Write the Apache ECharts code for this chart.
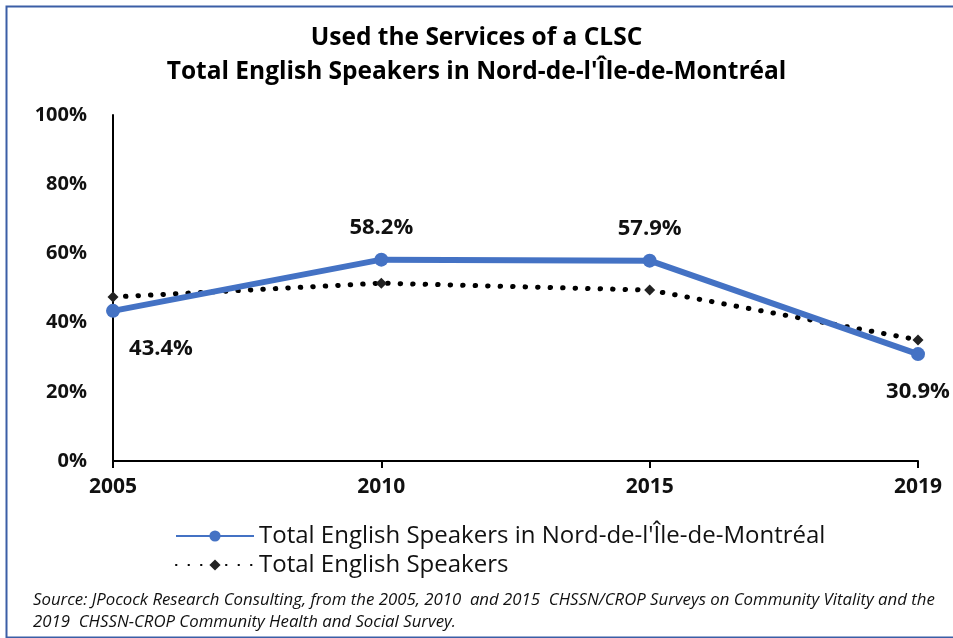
<!DOCTYPE html>
<html>
<head>
<meta charset="utf-8">
<script src="https://cdn.jsdelivr.net/npm/echarts@6/dist/echarts.min.js"></script>
<style>html,body{margin:0;padding:0;background:#fff}#c{width:953px;height:638px}</style>
</head>
<body>
<div id="c"></div>
<script>
const categories = ['2005', '2010', '2015', '2019'];
const nordValues = [43.4, 58.2, 57.9, 30.9];
const totalValues = [47.4, 51.4, 49.4, 35.0];
const nordName = "Total English Speakers in Nord-de-l'Île-de-Montréal";
const totalName = 'Total English Speakers';
const labelPositions = ['bottom', 'top', 'top', 'bottom'];
const labelOffsets = [[48, 8], [0, -2], [0, -2], [0, 8]];

const FONT = '"Open Sans", Lato, sans-serif';
const chart = echarts.init(document.getElementById('c'), null, {renderer: 'canvas'});
chart.setOption({
  animation: false,
  backgroundColor: '#fff',
  title: {
    text: "Used the Services of a CLSC\nTotal English Speakers in Nord-de-l'Île-de-Montréal",
    left: 'center', top: 16,
    textStyle: {fontFamily: FONT, fontSize: 24.5, fontWeight: 'bold', color: '#000', lineHeight: 34}
  },
  grid: {left: 113, right: 35, top: 115, bottom: 177, containLabel: false},
  legend: {
    orient: 'vertical', left: 170, top: 519, itemGap: 5, itemWidth: 78, itemHeight: 14,
    textStyle: {fontFamily: FONT, fontSize: 24, color: '#111'},
    data: [nordName, totalName]
  },
  xAxis: {
    type: 'category', data: categories, boundaryGap: false,
    axisLine: {lineStyle: {color: '#000', width: 2}},
    axisTick: {show: true, length: 7, lineStyle: {color: '#000', width: 2}},
    axisLabel: {fontFamily: FONT, fontSize: 21, fontWeight: 'bold', color: '#111', margin: 16}
  },
  yAxis: {
    type: 'value', min: 0, max: 100, interval: 20,
    splitLine: {show: false},
    axisLine: {show: true, lineStyle: {color: '#000', width: 2}},
    axisTick: {show: false},
    axisLabel: {formatter: '{value}%', fontFamily: FONT, fontSize: 20, fontWeight: 'bold', color: '#111', margin: 26}
  },
  series: [
    {
      name: totalName, type: 'line', data: totalValues,
      symbol: 'diamond', symbolSize: 11,
      itemStyle: {color: '#222'},
      lineStyle: {color: '#000', width: 5, type: [0.5, 12], cap: 'round'},
      z: 2
    },
    {
      name: nordName, type: 'line',
      data: nordValues.map((v, i) => ({
        value: v,
        label: {position: labelPositions[i], offset: labelOffsets[i]}
      })),
      symbol: 'circle', symbolSize: 14,
      itemStyle: {color: '#4472C4'},
      lineStyle: {color: '#4472C4', width: 6},
      label: {
        show: true, formatter: p => p.value.toFixed(1) + '%',
        fontFamily: FONT, fontSize: 22, fontWeight: 'bold', color: '#111', distance: 12
      },
      z: 3
    }
  ],
  graphic: [
    {type: 'rect', left: 4, top: 4, z: 100, silent: true,
     shape: {width: 960, height: 631},
     style: {fill: null, stroke: '#3B5EA6', lineWidth: 2}},
    {type: 'text', left: 33, top: 589, z: 100,
     style: {text: 'Source: JPocock Research Consulting, from the 2005, 2010  and 2015  CHSSN/CROP Surveys on Community Vitality and the\n2019  CHSSN-CROP Community Health and Social Survey.',
             fontFamily: FONT, fontSize: 16.8, fontStyle: 'italic', fill: '#111', lineHeight: 22}}
  ]
});
</script>
</body>
</html>
